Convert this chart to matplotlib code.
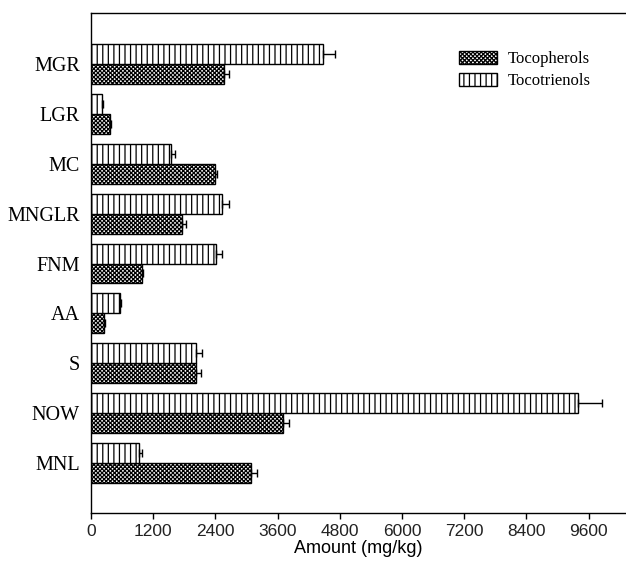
import numpy as np
import matplotlib
matplotlib.use('Agg')
import matplotlib.pyplot as plt

# samples, listed from top to bottom as in the figure
samples = ['MGR', 'LGR', 'MC', 'MNGLR', 'FNM', 'AA', 'S', 'NOW', 'MNL']

tocopherols = [2570, 370, 2390, 1765, 985, 260, 2020, 3695, 3085]
tocopherols_err = [100, 15, 45, 60, 15, 10, 100, 125, 115]

tocotrienols = [4480, 215, 1550, 2520, 2420, 550, 2035, 9390, 935]
tocotrienols_err = [220, 25, 70, 135, 115, 25, 110, 470, 50]

xticks = [0, 1200, 2400, 3600, 4800, 6000, 7200, 8400, 9600]

plt.rcParams['hatch.linewidth'] = 0.9
serif = ['Liberation Serif', 'DejaVu Serif']
sans = ['Liberation Sans', 'DejaVu Sans']

fig = plt.figure(figsize=(6.26, 5.71), dpi=100)
ax = fig.add_axes([0.1454, 0.1016, 0.8546, 0.8756])

y = np.arange(len(samples))[::-1]
h = 0.4

ax.barh(y - h / 2, tocopherols, height=h, color='white', edgecolor='black',
        linewidth=1.0, hatch='xxxxxxxx', label='Tocopherols',
        xerr=[np.zeros(len(samples)), tocopherols_err],
        error_kw=dict(ecolor='black', elinewidth=1.0, capsize=3, capthick=1.0))
ax.barh(y + h / 2, tocotrienols, height=h, color='white', edgecolor='black',
        linewidth=1.0, hatch='|||', label='Tocotrienols',
        xerr=[np.zeros(len(samples)), tocotrienols_err],
        error_kw=dict(ecolor='black', elinewidth=1.0, capsize=3, capthick=1.0))

ax.set_xlim(0, 10322)
ax.set_ylim(-1.0, 9.02)
ax.set_xticks(xticks)
ax.set_xticklabels([str(t) for t in xticks], fontfamily=sans, fontsize=12.5, color='#222222')
ax.set_yticks(y)
ax.set_yticklabels(samples, fontfamily=serif, fontsize=14.5)
ax.tick_params(axis='y', length=0, pad=8)
ax.tick_params(axis='x', direction='out', length=4, width=1, pad=4)
ax.spines['right'].set_visible(False)
for s in ['left', 'top', 'bottom']:
    ax.spines[s].set_linewidth(1.0)

ax.set_xlabel('Amount (mg/kg)', fontfamily=sans, fontsize=13, labelpad=1)

ax.legend(loc='upper left', bbox_to_anchor=(0.720, 0.925), bbox_transform=fig.transFigure,
          frameon=False, prop={'family': serif, 'size': 12}, borderpad=0,
          handlelength=2.3, handleheight=0.8, handletextpad=0.6, labelspacing=0.35)

fig.savefig('out.png', dpi=100)
